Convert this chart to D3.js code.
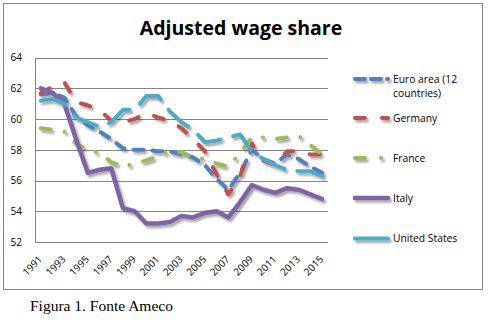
<!DOCTYPE html>
<html><head><meta charset="utf-8">
<script src="https://cdn.jsdelivr.net/npm/d3@7"></script>
<style>body{margin:0;background:#fff}</style>
</head><body>
<svg id="c" width="495" height="332"></svg>
<script>
const years = ["1991","1992","1993","1994","1995","1996","1997","1998","1999","2000","2001","2002","2003","2004","2005","2006","2007","2008","2009","2010","2011","2012","2013","2014","2015"];
const tickLabels = ["1991","1993","1995","1997","1999","2001","2003","2005","2007","2009","2011","2013","2015"];
const yTicks = [52,54,56,58,60,62,64];
const seriesNames = ["Euro area (12 countries)","Germany","France","Italy","United States"];
const euroArea = [61.6,61.7,61.4,60.2,59.6,59.2,58.7,58.1,58.0,58.0,57.9,57.9,57.7,57.5,57.0,56.1,55.4,56.5,58.0,57.4,57.1,57.7,57.4,56.9,56.5];
const germany  = [61.7,62.1,62.4,61.1,60.9,60.6,59.9,59.8,60.0,60.4,60.1,59.9,59.4,58.7,57.9,56.4,55.1,56.3,58.4,57.3,57.0,57.9,57.9,57.7,57.7];
const france   = [59.4,59.3,59.2,58.4,58.0,57.8,57.2,56.9,57.1,57.3,57.6,57.9,57.85,57.5,57.4,57.1,56.9,57.8,58.8,58.8,58.7,58.8,58.9,58.3,57.7];
const italy    = [62.0,61.7,61.0,58.7,56.5,56.7,56.8,54.2,54.0,53.2,53.2,53.3,53.7,53.6,53.9,54.0,53.6,54.6,55.7,55.4,55.2,55.5,55.4,55.1,54.8];
const usa      = [61.2,61.3,61.0,60.1,59.8,59.5,59.8,60.6,60.6,61.5,61.5,60.5,59.8,59.3,58.5,58.6,58.8,59.0,57.9,57.4,57.0,56.7,56.6,56.6,56.3];

const colors = ["#4F81BD","#C0504D","#9BBB59","#8064A2","#4BACC6"];
const dashes = ["10,9","10,17","10,14,0.1,14",null,"26,13"];
const legendDashes = ["10,6","10,17","10,16,0.1,30",null,null];
const widths = [4,4,4,4.5,4];
const values = [euroArea, germany, france, italy, usa];

const svg = d3.select("#c");
const defs = svg.append("defs");
const f = defs.append("filter").attr("id","sh").attr("filterUnits","userSpaceOnUse")
  .attr("x",0).attr("y",0).attr("width",495).attr("height",332);
f.append("feDropShadow").attr("dx",2).attr("dy",2.5).attr("stdDeviation",1.3).attr("flood-color","#000").attr("flood-opacity",0.35);

svg.append("rect").attr("x",3.5).attr("y",3.5).attr("width",479).attr("height",286)
  .attr("fill","#fff").attr("stroke","#868686").attr("stroke-width",1);

const pL = 35, pR = 328, pT = 57.6, pB = 242;
const x = d3.scaleBand().domain(years).range([pL, pR]);
const xc = d => x(d) + x.bandwidth()/2;
const y = d3.scaleLinear().domain([52,64]).range([pB, pT]);

const gy = svg.append("g").attr("transform",`translate(${pL},0)`)
  .call(d3.axisLeft(y).tickValues(yTicks).tickSize(-(pR-pL)).tickFormat(d3.format("d")).tickPadding(13));
gy.select(".domain").remove();
gy.selectAll(".tick line").attr("stroke","#868686").attr("shape-rendering","crispEdges");
gy.selectAll(".tick text").attr("font-family","'Open Sans', sans-serif").attr("font-size",10).attr("fill","#000");
svg.append("line").attr("x1",pL+0.5).attr("x2",pL+0.5).attr("y1",pT).attr("y2",pB)
  .attr("stroke","#868686").attr("shape-rendering","crispEdges");

const gx = svg.append("g").attr("transform",`translate(0,${pB})`)
  .call(d3.axisBottom(x).tickValues(tickLabels).tickSize(0).tickPadding(0));
gx.select(".domain").remove();
gx.selectAll(".tick text")
  .attr("font-family","'Open Sans', sans-serif").attr("font-size",10).attr("fill","#000")
  .attr("text-anchor","end").attr("dy",null).attr("y",0)
  .attr("transform","translate(2,18) rotate(-45)");

const line = d3.line().x((d,i)=>xc(years[i])).y(d=>y(d));
const lg = svg.append("g").attr("filter","url(#sh)");
values.forEach((v,k)=>{
  lg.append("path").datum(v).attr("d",line).attr("fill","none")
    .attr("stroke",colors[k]).attr("stroke-width",widths[k])
    .attr("stroke-linecap","round").attr("stroke-linejoin","round")
    .attr("stroke-dasharray",dashes[k]);
});

svg.append("text").attr("x",241).attr("y",35).attr("text-anchor","middle")
  .attr("font-family","'Open Sans', sans-serif").attr("font-weight","bold").attr("font-size",19.5)
  .attr("fill","#000").text("Adjusted wage share");

const legY = [79,118,158,198,238.5];
const leg = svg.append("g");
seriesNames.forEach((n,k)=>{
  leg.append("path").attr("d",`M355,${legY[k]}H388`).attr("fill","none")
    .attr("stroke",colors[k]).attr("stroke-width",widths[k]).attr("stroke-linecap","round")
    .attr("stroke-dasharray",legendDashes[k]).attr("filter","url(#sh)");
  const t = leg.append("text").attr("x",393).attr("y",legY[k]+3.6)
    .attr("font-family","'Open Sans', sans-serif").attr("font-size",10.3).attr("fill","#000");
  if(k===0){
    t.append("tspan").attr("x",393).text("Euro area (12");
    t.append("tspan").attr("x",393).attr("dy",14).text("countries)");
  } else t.text(n);
});

svg.append("text").attr("x",30).attr("y",311)
  .attr("font-family","'Liberation Serif', serif").attr("font-size",15.5).attr("fill","#000")
  .text("Figura 1. Fonte Ameco");
</script>
</body></html>
